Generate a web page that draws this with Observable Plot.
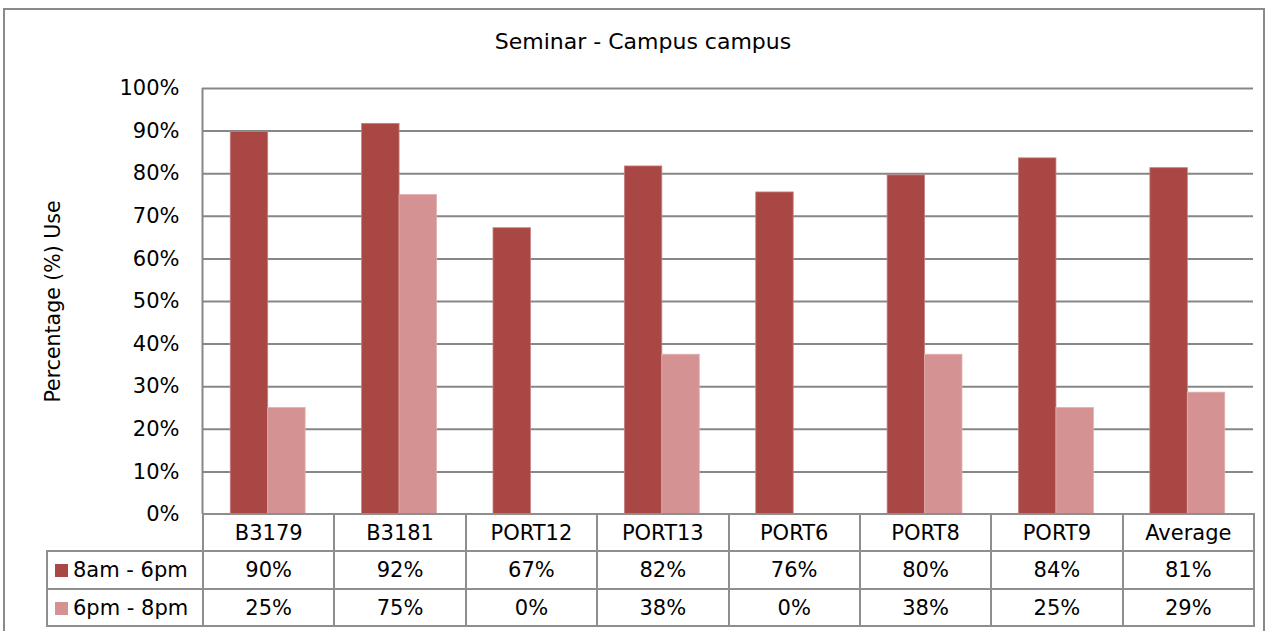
<!DOCTYPE html>
<html>
<head>
<meta charset="utf-8">
<script src="https://cdn.jsdelivr.net/npm/d3@7"></script>
<script src="https://cdn.jsdelivr.net/npm/@observablehq/plot@0.6"></script>
<style>
  html, body { margin: 0; padding: 0; background: white; overflow: hidden; }
  #wrap { position: relative; width: 1268px; height: 631px; font-family: "DejaVu Sans", sans-serif; }
  #wrap svg { position: absolute; left: 0; top: 0; }
  #border { position: absolute; left: 3px; top: 8px; width: 1258px; height: 700px; border: 2px solid #8a8a8a; z-index: 3; pointer-events: none; }
  #title { position: absolute; left: 18px; width: 1250px; top: 31px; text-align: center; font-size: 22px; line-height: 22px; color: #000; z-index: 2; }
  #dtable { position: absolute; left: 46px; top: 513px; border-collapse: collapse; table-layout: fixed; z-index: 2; background: transparent; }
  #dtable td { border: 2px solid #8e8e8e; text-align: center; font-size: 21px; color: #000; padding: 0; background: white; overflow: hidden; white-space: nowrap; }
  #dtable td.blank { border: none; background: transparent; }
  #dtable td.leg { text-align: left; padding-left: 7px; }
  .sw { display: inline-block; width: 13px; height: 13px; margin-right: 5px; vertical-align: 0px; }
</style>
</head>
<body>
<div id="wrap">
  <div id="border"></div>
  <div id="title"></div>
</div>
<script>
const chartTitle = "Seminar - Campus campus";
const yLabel = "Percentage (%) Use";
const categories = ["B3179", "B3181", "PORT12", "PORT13", "PORT6", "PORT8", "PORT9", "Average"];
const seriesNames = ["8am - 6pm", "6pm - 8pm"];
const dayValues = [0.898, 0.917, 0.672, 0.817, 0.756, 0.796, 0.836, 0.813];
const eveningValues = [0.25, 0.75, 0, 0.375, 0, 0.375, 0.25, 0.286];
const yTicks = [0, 0.1, 0.2, 0.3, 0.4, 0.5, 0.6, 0.7, 0.8, 0.9, 1.0];
const seriesColors = ["#A94744", "#D49392"];

const fmt = d3.format(".0%");
const seriesValues = [dayValues, eveningValues];
const rows = [];
seriesNames.forEach((s, si) => categories.forEach((c, ci) => rows.push({series: s, category: c, value: seriesValues[si][ci]})));

const W = 1268, H = 631, mL = 202, mR = 15, mT = 88, mB = 117;
const pad = 0.43;
const step = (W - mL - mR) / categories.length;
const half = step * (1 - pad) / 2;
const tableLeft = 46;

const plot = Plot.plot({
  width: W,
  height: H,
  marginLeft: mL,
  marginRight: mR,
  marginTop: mT,
  marginBottom: mB,
  style: {fontFamily: "DejaVu Sans, sans-serif", fontSize: "21px", color: "#000", background: "transparent"},
  x: {domain: categories, paddingInner: pad, paddingOuter: pad / 2, align: 0.5, round: false, axis: null},
  y: {domain: [0, 1], ticks: yTicks, tickFormat: fmt, tickSize: 0, tickPadding: 23, label: null},
  color: {domain: seriesNames, range: seriesColors},
  marks: [
    Plot.ruleY(yTicks, {stroke: "#878787", strokeWidth: 2}),
    Plot.ruleX([categories[0]], {x: d => d, y1: 0, y2: 1, dx: -step / 2, stroke: "#878787", strokeWidth: 2}),
    Plot.barY(rows.filter(d => d.series === seriesNames[0]), {x: "category", y: "value", fill: "series", insetRight: half, stroke: "#c4807e", strokeWidth: 0.8}),
    Plot.barY(rows.filter(d => d.series === seriesNames[1]), {x: "category", y: "value", fill: "series", insetLeft: half, stroke: "#e0b0ae", strokeWidth: 0.8}),
    Plot.text([yLabel], {y: () => 0.5, frameAnchor: "left", textAnchor: "middle", rotate: -90, dx: -149, fontSize: 20.5, fill: "#000"})
  ]
});
const wrap = document.getElementById("wrap");
wrap.insertBefore(plot, wrap.firstChild);
document.getElementById("title").textContent = chartTitle;

// data table below the plot
const table = document.createElement("table");
table.id = "dtable";
const colgroup = document.createElement("colgroup");
const c0 = document.createElement("col"); c0.style.width = (mL - tableLeft) + "px"; colgroup.appendChild(c0);
categories.forEach(() => { const c = document.createElement("col"); c.style.width = step + "px"; colgroup.appendChild(c); });
table.appendChild(colgroup);
table.style.width = (W - mR - tableLeft) + "px";
const hr = document.createElement("tr");
hr.style.height = "37px";
const blank = document.createElement("td"); blank.className = "blank"; hr.appendChild(blank);
categories.forEach(c => { const td = document.createElement("td"); td.textContent = c; hr.appendChild(td); });
table.appendChild(hr);
seriesNames.forEach((s, si) => {
  const tr = document.createElement("tr");
  tr.style.height = si === 0 ? "38px" : "37px";
  const td0 = document.createElement("td"); td0.className = "leg";
  const sw = document.createElement("span"); sw.className = "sw"; sw.style.background = seriesColors[si];
  td0.appendChild(sw); td0.appendChild(document.createTextNode(s));
  tr.appendChild(td0);
  seriesValues[si].forEach(v => { const td = document.createElement("td"); td.textContent = fmt(v); tr.appendChild(td); });
  table.appendChild(tr);
});
wrap.appendChild(table);
</script>
</body>
</html>
